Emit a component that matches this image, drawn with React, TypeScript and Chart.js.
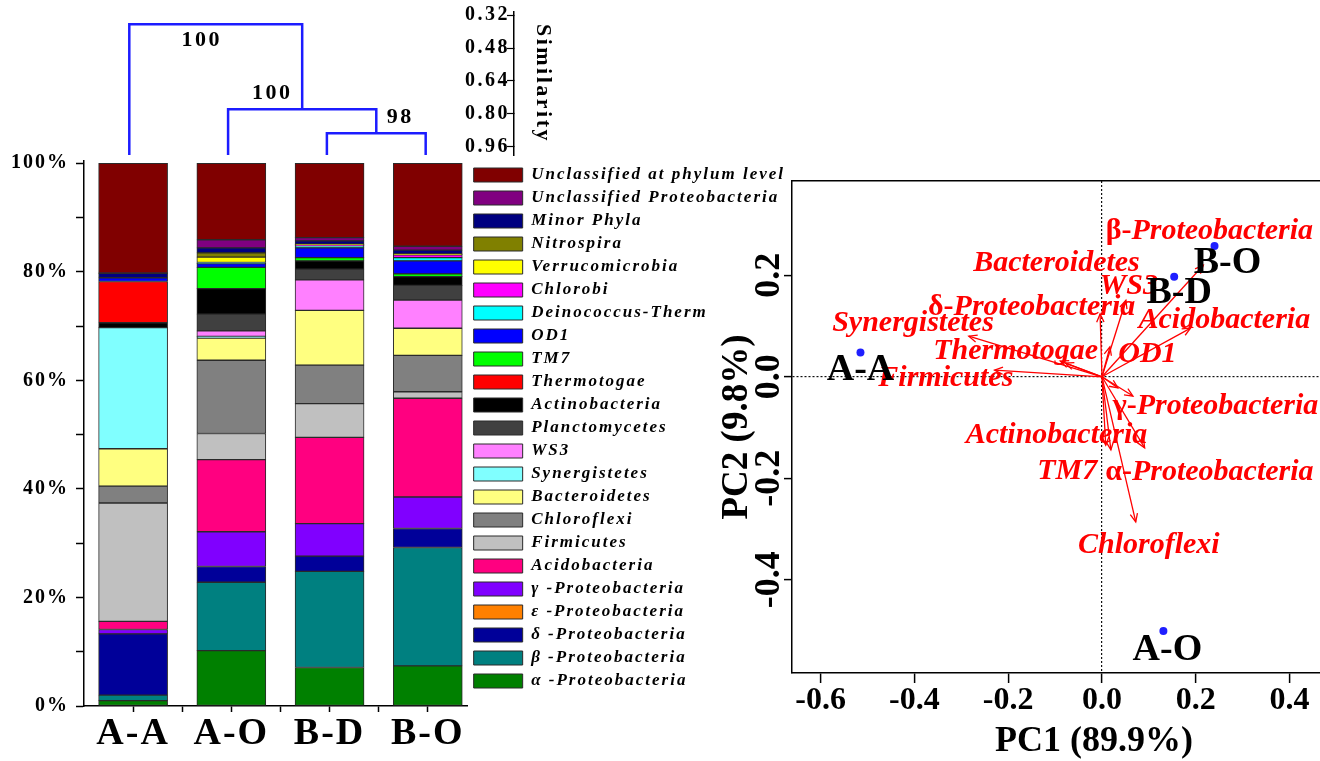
import React, { useEffect, useRef } from 'react';
import { Chart, registerables } from 'chart.js';

Chart.register(...registerables);

const SERIF = "'Liberation Serif', 'Times New Roman', serif";
Chart.defaults.font.family = SERIF;

// ---------------- shared categories ----------------
const samples = ['A-A', 'A-O', 'B-D', 'B-O'];

// ---------------- stacked composition (% of reads), samples order A-A, A-O, B-D, B-O ----------------
const alphaProteobacteria = [1.0, 10.2, 7.1, 7.4];
const betaProteobacteria = [1.0, 12.6, 17.7, 21.8];
const deltaProteobacteria = [11.3, 2.9, 2.8, 3.5];
const epsilonProteobacteria = [0, 0, 0, 0];
const gammaProteobacteria = [0.8, 6.4, 6.0, 5.8];
const acidobacteria = [1.5, 13.3, 15.9, 18.2];
const firmicutes = [21.8, 4.8, 6.2, 1.2];
const chloroflexi = [3.1, 13.5, 7.1, 6.7];
const bacteroidetes = [6.9, 4.1, 10.1, 5.0];
const synergistetes = [22.3, 0.3, 0, 0];
const ws3 = [0, 1.0, 5.6, 5.2];
const planctomycetes = [0, 3.1, 2.0, 2.7];
const actinobacteria = [0.9, 4.7, 1.5, 1.6];
const thermotogae = [7.6, 0, 0, 0];
const tm7 = [0, 3.9, 0.6, 0.5];
const od1 = [0.7, 0.7, 1.8, 2.4];
const deinococcusTherm = [0, 0.2, 0.4, 0.6];
const chlorobi = [0, 0, 0.1, 0.5];
const verrucomicrobia = [0, 1.0, 0.1, 0.1];
const nitrospira = [0, 0.8, 0.1, 0.1];
const minorPhyla = [0.8, 0.9, 0.6, 0.7];
const unclassifiedProteobacteria = [0.1, 1.5, 0.6, 0.7];
const unclassifiedPhylum = [20.2, 14.1, 13.7, 15.3];

// stack order bottom -> top
const taxaNames = [
  'α -Proteobacteria', 'β -Proteobacteria', 'δ -Proteobacteria', 'ε -Proteobacteria', 'γ -Proteobacteria',
  'Acidobacteria', 'Firmicutes', 'Chloroflexi', 'Bacteroidetes', 'Synergistetes', 'WS3', 'Planctomycetes',
  'Actinobacteria', 'Thermotogae', 'TM7', 'OD1', 'Deinococcus-Therm', 'Chlorobi', 'Verrucomicrobia',
  'Nitrospira', 'Minor Phyla', 'Unclassified Proteobacteria', 'Unclassified at phylum level',
];
const taxaValues = [
  alphaProteobacteria, betaProteobacteria, deltaProteobacteria, epsilonProteobacteria, gammaProteobacteria,
  acidobacteria, firmicutes, chloroflexi, bacteroidetes, synergistetes, ws3, planctomycetes,
  actinobacteria, thermotogae, tm7, od1, deinococcusTherm, chlorobi, verrucomicrobia,
  nitrospira, minorPhyla, unclassifiedProteobacteria, unclassifiedPhylum,
];
const taxaColors = [
  '#008000', '#008080', '#000099', '#ff8000', '#8000ff',
  '#ff0080', '#c0c0c0', '#808080', '#ffff80', '#80ffff', '#ff80ff', '#404040',
  '#000000', '#ff0000', '#00ff00', '#0000ff', '#00ffff', '#ff00ff', '#ffff00',
  '#808000', '#000080', '#800080', '#800000',
];
const percentTicks = [0, 10, 20, 30, 40, 50, 60, 70, 80, 90, 100];

// ---------------- dendrogram (similarity) ----------------
const leafSimilarity = 1.0;
const mergeLeft = [2, 1, 0];
const mergeRight = [3, 4, 5];
const mergeSimilarity = [0.894, 0.778, 0.365];
const bootstrapValues = ['98', '100', '100'];
const similarityTicks = [0.32, 0.40, 0.48, 0.56, 0.64, 0.72, 0.80, 0.88, 0.96];

// ---------------- PCA biplot ----------------
const loadingNames = [
  'Synergistetes', 'Firmicutes', 'Thermotogae', 'Bacteroidetes', 'δ-Proteobacteria', 'WS3',
  'Acidobacteria', 'β-Proteobacteria', 'OD1', 'γ-Proteobacteria', 'Actinobacteria', 'TM7',
  'α-Proteobacteria', 'Chloroflexi', 'Planctomycetes',
];
const loadingPC1 = [-0.284, -0.229, -0.089, -0.078, -0.004, 0.051, 0.189, 0.216, 0.017, 0.066, 0.008, 0.019, 0.091, 0.072, 0.034];
const loadingPC2 = [0.080, 0.013, 0.031, 0.027, 0.124, 0.151, 0.096, 0.220, 0.059, -0.038, -0.135, -0.144, -0.140, -0.286, -0.022];
const loadingLabelPC1 = [-0.403, -0.333, -0.184, -0.097, -0.150, 0.057, 0.261, 0.229, 0.097, 0.242, -0.097, -0.074, 0.229, 0.100, null];
const loadingLabelPC2 = [0.106, -0.003, 0.051, 0.224, 0.137, 0.179, 0.112, 0.287, 0.045, -0.058, -0.115, -0.186, -0.188, -0.332, null];
const samplePC1 = [-0.515, 0.131, 0.154, 0.240];
const samplePC2 = [0.048, -0.501, 0.197, 0.258];
const pcaXTicks = [-0.6, -0.4, -0.2, 0, 0.2, 0.4];
const pcaYTicks = [-0.4, -0.2, 0, 0.2];

// ---------------- style-only offsets (pixels) ----------------
const bootstrapOffsets = [[24, -16], [-30, -16], [-14, 16]];
const sampleLabelOffsets = [[0, 18], [4, 19], [5, 16], [13, 17]];

const spacing = (px: string) => ({
  id: 'letterSpacing',
  beforeLayout(chart: any) { chart.ctx.letterSpacing = px; },
  beforeDraw(chart: any) { chart.ctx.letterSpacing = px; },
});

const noPad = (s: any) => { s.paddingTop = 0; s.paddingBottom = 0; s.paddingLeft = 0; s.paddingRight = 0; };

function BarChart() {
  const ref = useRef<HTMLCanvasElement>(null);
  useEffect(() => {
    const canvas = ref.current!;
    const m: any = document.createElement('canvas').getContext('2d');
    m.font = `italic bold 17px ${SERIF}`;
    m.letterSpacing = '2px';
    const maxText = Math.max(...taxaNames.map((n) => m.measureText(n).width));
    const legendW = 6 + 49 + 17 / 2 + maxText + 10;
    const W = Math.ceil(467 + legendW);
    canvas.width = W;
    canvas.height = 761;
    canvas.style.width = W + 'px';
    canvas.style.height = '761px';

    const datasets = taxaNames.map((name, k) => ({
      label: name,
      data: taxaValues[k].map((v, i) => ({ x: i, y: v })),
      backgroundColor: taxaColors[k],
      borderColor: '#2a2a2a',
      borderWidth: 1,
      borderSkipped: false,
      barThickness: 69,
    }));
    const tickPositions: number[] = [];
    samples.forEach((_, i) => { tickPositions.push(i); if (i < samples.length - 1) tickPositions.push(i + 0.5); });

    const chart = new Chart(canvas, {
      type: 'bar',
      data: { datasets } as any,
      options: {
        animation: false,
        responsive: false,
        maintainAspectRatio: false,
        events: [],
        layout: { padding: { top: 160.5, left: 0, right: 0, bottom: 0 } },
        plugins: {
          tooltip: { enabled: false },
          legend: {
            position: 'right',
            align: 'start',
            reverse: true,
            maxWidth: 600,
            labels: {
              boxWidth: 49,
              boxHeight: 14,
              padding: 6,
              color: '#000',
              font: { family: SERIF, size: 17, weight: 'bold', style: 'italic' },
            },
          },
        },
        scales: {
          x: {
            type: 'linear',
            min: -0.5,
            max: 3.406,
            bounds: 'data',
            offset: false,
            stacked: true,
            afterBuildTicks: (s: any) => { s.ticks = tickPositions.map((v) => ({ value: v })); },
            afterFit: (s: any) => { s.height = 55; noPad(s); },
            ticks: {
              autoSkip: false, maxRotation: 0, minRotation: 0, padding: 3, color: '#000',
              font: { family: SERIF, size: 38, weight: 'bold', lineHeight: 1 },
              callback: (v: any) => (Number.isInteger(v) ? samples[v] : ''),
            },
            grid: { offset: false, drawOnChartArea: false, tickLength: 6, tickColor: '#000', tickWidth: 1.5 },
            border: { color: '#000', width: 1.5 },
          },
          y: {
            type: 'linear',
            min: 0,
            max: 100.5,
            bounds: 'data',
            stacked: true,
            afterBuildTicks: (s: any) => { s.ticks = percentTicks.map((v) => ({ value: v })); },
            afterFit: (s: any) => { s.width = 84; noPad(s); },
            ticks: {
              padding: 7, color: '#000',
              font: { family: SERIF, size: 20, weight: 'bold' },
              callback: (v: any) => (v % 20 === 0 ? v + '%' : ''),
            },
            grid: { drawOnChartArea: false, tickLength: 8, tickColor: '#000', tickWidth: 1.5 },
            border: { color: '#000', width: 1.5 },
          },
        },
      } as any,
      plugins: [spacing('2px')],
    });
    return () => chart.destroy();
  }, []);
  return <canvas ref={ref} style={{ position: 'absolute', left: 0, top: 0, display: 'block' }} />;
}

function Dendrogram() {
  const ref = useRef<HTMLCanvasElement>(null);
  useEffect(() => {
    const nodeX: number[] = samples.map((_, i) => i);
    const nodeY: number[] = samples.map(() => leafSimilarity);
    const datasets = mergeLeft.map((l, k) => {
      const r = mergeRight[k];
      const s = mergeSimilarity[k];
      const pts = [
        { x: nodeX[l], y: nodeY[l] }, { x: nodeX[l], y: s },
        { x: nodeX[r], y: s }, { x: nodeX[r], y: nodeY[r] },
      ];
      nodeX.push((nodeX[l] + nodeX[r]) / 2);
      nodeY.push(s);
      return { data: pts, borderColor: '#1c1cff', borderWidth: 2.5, pointRadius: 0, fill: false, tension: 0 };
    });
    const labels = {
      id: 'bootstrap',
      afterDatasetsDraw(chart: any) {
        const { ctx, scales } = chart;
        ctx.save();
        ctx.font = `bold 22px ${SERIF}`;
        ctx.fillStyle = '#000';
        ctx.textAlign = 'center';
        ctx.textBaseline = 'middle';
        mergeLeft.forEach((l, k) => {
          const mid = nodeX[samples.length + k];
          const px = scales.x.getPixelForValue(mid) + bootstrapOffsets[k][0];
          const py = scales.y.getPixelForValue(mergeSimilarity[k]) + bootstrapOffsets[k][1];
          ctx.fillText(bootstrapValues[k], px, py);
        });
        ctx.restore();
      },
    };
    const chart = new Chart(ref.current!, {
      type: 'line',
      data: { datasets } as any,
      options: {
        animation: false,
        responsive: false,
        maintainAspectRatio: false,
        events: [],
        layout: { padding: { left: 84, top: 12, right: 0, bottom: 5 } },
        plugins: { legend: { display: false }, tooltip: { enabled: false } },
        scales: {
          x: { type: 'linear', display: false, min: -0.4585, max: 3.894, bounds: 'data', afterFit: noPad },
          y: {
            type: 'linear',
            position: 'right',
            reverse: true,
            min: 0.305,
            max: 1.0,
            bounds: 'data',
            afterBuildTicks: (s: any) => { s.ticks = similarityTicks.map((v) => ({ value: v })); },
            afterFit: (s: any) => { s.width = 45; noPad(s); },
            ticks: {
              mirror: true, padding: -4, color: '#000',
              font: { family: SERIF, size: 20, weight: 'bold' },
              callback: (v: any, i: number) => (i % 2 === 0 ? Number(v).toFixed(2) : ''),
            },
            grid: { drawOnChartArea: false, tickLength: -7, tickColor: '#000', tickWidth: 1.2 },
            border: { color: '#000', width: 1.5 },
            title: {
              display: true, text: 'Similarity', color: '#000',
              font: { family: SERIF, size: 22, weight: 'bold' }, padding: { top: 3, bottom: 3 },
            },
          },
        },
      } as any,
      plugins: [spacing('2.5px'), labels],
    });
    return () => chart.destroy();
  }, []);
  return <canvas ref={ref} width={559} height={160} style={{ position: 'absolute', left: 0, top: 0, display: 'block' }} />;
}

function Biplot() {
  const ref = useRef<HTMLCanvasElement>(null);
  useEffect(() => {
    const isZero = (v: number) => Math.abs(v) < 1e-9;
    const datasets: any[] = loadingNames.map((n, i) => ({
      label: n,
      data: [{ x: 0, y: 0 }, { x: loadingPC1[i], y: loadingPC2[i] }],
      showLine: true,
      borderColor: '#ff0000',
      borderWidth: 1.3,
      pointRadius: 0,
    }));
    datasets.push({
      label: 'samples',
      data: samples.map((_, i) => ({ x: samplePC1[i], y: samplePC2[i] })),
      showLine: false,
      pointRadius: 4,
      backgroundColor: '#1f1fff',
      borderWidth: 0,
    });
    const upright = `bold 30px ${SERIF}`;
    const italic = `italic bold 30px ${SERIF}`;
    const drawLabel = (ctx: any, text: string, cx: number, cy: number) => {
      const greek = /^[α-ω]-/.test(text);
      const head = greek ? text.slice(0, 2) : '';
      const tail = greek ? text.slice(2) : text;
      ctx.font = upright;
      const wh = head ? ctx.measureText(head).width : 0;
      ctx.font = italic;
      const wt = ctx.measureText(tail).width;
      let x = cx - (wh + wt) / 2;
      ctx.textAlign = 'left';
      if (head) { ctx.font = upright; ctx.fillText(head, x, cy); x += wh; }
      ctx.font = italic;
      ctx.fillText(tail, x, cy);
    };
    const overlay = {
      id: 'overlay',
      afterDatasetsDraw(chart: any) {
        const { ctx, scales } = chart;
        const xs = scales.x;
        const ys = scales.y;
        ctx.save();
        ctx.strokeStyle = '#ff0000';
        ctx.lineWidth = 1.3;
        const ox = xs.getPixelForValue(0);
        const oy = ys.getPixelForValue(0);
        loadingNames.forEach((_, i) => {
          const tx = xs.getPixelForValue(loadingPC1[i]);
          const ty = ys.getPixelForValue(loadingPC2[i]);
          const ang = Math.atan2(ty - oy, tx - ox);
          const L = 9;
          const a = 0.42;
          ctx.beginPath();
          ctx.moveTo(tx - L * Math.cos(ang - a), ty - L * Math.sin(ang - a));
          ctx.lineTo(tx, ty);
          ctx.lineTo(tx - L * Math.cos(ang + a), ty - L * Math.sin(ang + a));
          ctx.stroke();
        });
        ctx.fillStyle = '#ff0000';
        ctx.textBaseline = 'middle';
        loadingNames.forEach((n, i) => {
          const lx = loadingLabelPC1[i];
          const ly = loadingLabelPC2[i];
          if (lx === null || ly === null) return;
          drawLabel(ctx, n, xs.getPixelForValue(lx), ys.getPixelForValue(ly));
        });
        ctx.fillStyle = '#000';
        ctx.font = `bold 38px ${SERIF}`;
        ctx.textAlign = 'center';
        samples.forEach((s, i) => {
          ctx.fillText(s, xs.getPixelForValue(samplePC1[i]) + sampleLabelOffsets[i][0], ys.getPixelForValue(samplePC2[i]) + sampleLabelOffsets[i][1]);
        });
        ctx.restore();
      },
      afterDraw(chart: any) {
        const { ctx, scales } = chart;
        const ys = scales.y;
        ctx.save();
        ctx.fillStyle = '#000';
        ctx.font = `bold 36px ${SERIF}`;
        ctx.textAlign = 'center';
        ctx.textBaseline = 'middle';
        ys.ticks.forEach((t: any) => {
          const py = ys.getPixelForValue(t.value);
          ctx.save();
          ctx.translate(ys.right - 22, py);
          ctx.rotate(-Math.PI / 2);
          ctx.fillText(Number(t.value).toFixed(1), 0, 0);
          ctx.restore();
        });
        ctx.restore();
      },
    };
    const zeroGrid = (c: any) => (c.tick && isZero(c.tick.value) ? '#111' : 'rgba(0,0,0,0)');
    const chart = new Chart(ref.current!, {
      type: 'scatter',
      data: { datasets },
      options: {
        animation: false,
        responsive: false,
        maintainAspectRatio: false,
        events: [],
        layout: { padding: { top: 181, left: 0, right: 0, bottom: 0 } },
        plugins: { legend: { display: false }, tooltip: { enabled: false } },
        scales: {
          x: {
            type: 'linear', min: -0.661, max: 0.627, bounds: 'data',
            afterBuildTicks: (s: any) => { s.ticks = pcaXTicks.map((v) => ({ value: v })); },
            afterFit: (s: any) => { s.height = 88; noPad(s); },
            ticks: {
              autoSkip: false, maxRotation: 0, minRotation: 0, padding: 2, color: '#000',
              font: { family: SERIF, size: 32, weight: 'bold', lineHeight: 1 },
              callback: (v: any) => Number(v).toFixed(1),
            },
            grid: { color: zeroGrid, lineWidth: 1.2, tickColor: '#000', tickLength: 10, tickWidth: 1.5 },
            border: { color: '#000', width: 1.5, dash: [2, 2] },
            title: {
              display: true, text: 'PC1 (89.9%)', color: '#000',
              font: { family: SERIF, size: 36, weight: 'bold', lineHeight: 1 }, padding: { top: 0, bottom: 1 },
            },
          },
          xTop: {
            type: 'linear', position: 'top', axis: 'x', min: -0.661, max: 0.627, bounds: 'data',
            afterFit: (s: any) => { s.height = 0; noPad(s); },
            ticks: { display: false },
            grid: { display: false, drawTicks: false },
            border: { color: '#000', width: 1.5 },
          },
          y: {
            type: 'linear', min: -0.584, max: 0.386, bounds: 'data',
            afterBuildTicks: (s: any) => { s.ticks = pcaYTicks.map((v) => ({ value: v })); },
            afterFit: (s: any) => { s.width = 92; noPad(s); },
            ticks: { display: false },
            grid: { color: zeroGrid, lineWidth: 1.2, tickColor: '#000', tickLength: 8, tickWidth: 1.5 },
            border: { color: '#000', width: 1.5, dash: [2, 2] },
            title: {
              display: true, text: 'PC2 (9.8%)', color: '#000',
              font: { family: SERIF, size: 37, weight: 'bold' }, padding: { top: 15, bottom: 0 },
            },
          },
        },
      } as any,
      plugins: [overlay],
    });
    return () => chart.destroy();
  }, []);
  return <canvas ref={ref} width={700} height={761} style={{ position: 'absolute', left: 700, top: 0, display: 'block' }} />;
}

export default function App() {
  return (
    <div style={{ position: 'fixed', left: 0, top: 0, width: 1320, height: 761, overflow: 'hidden', background: '#fff' }}>
      <BarChart />
      <Dendrogram />
      <Biplot />
    </div>
  );
}
